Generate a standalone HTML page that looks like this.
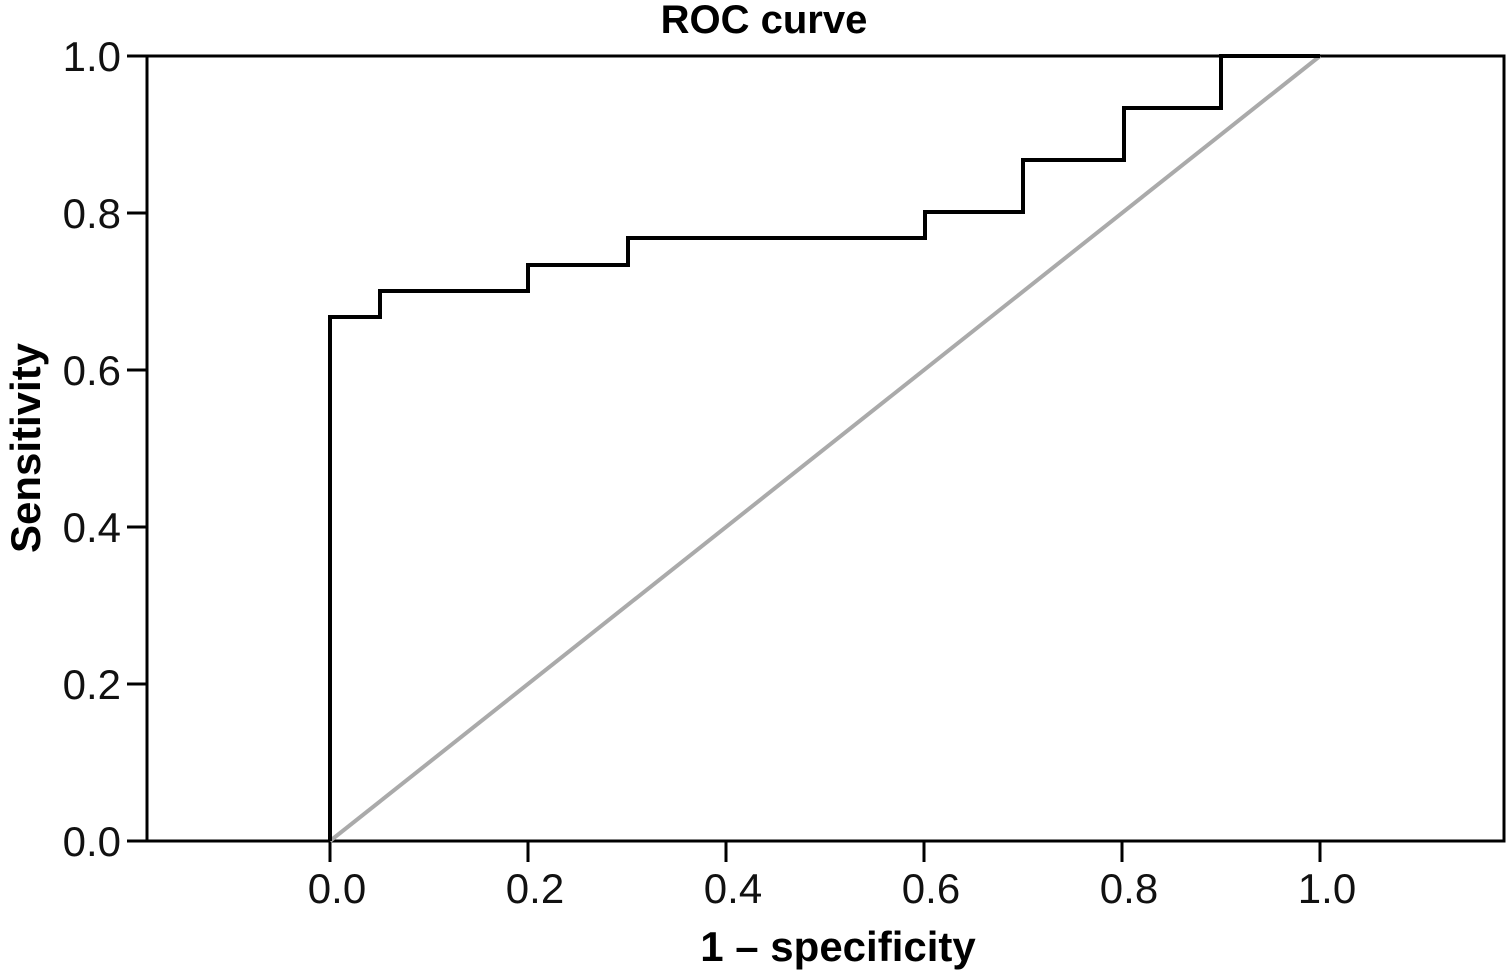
<!DOCTYPE html>
<html><head><style>body{margin:0;background:#fff}</style></head><body>
<svg width="1507" height="974" xmlns="http://www.w3.org/2000/svg" font-family="Liberation Sans, sans-serif">
<rect x="147" y="56" width="1357" height="785" fill="none" stroke="#000" stroke-width="3"/>
<g stroke="#000" stroke-width="3">
<line x1="127" y1="56" x2="147" y2="56"/><line x1="127" y1="213" x2="147" y2="213"/>
<line x1="127" y1="370" x2="147" y2="370"/><line x1="127" y1="527" x2="147" y2="527"/>
<line x1="127" y1="684" x2="147" y2="684"/><line x1="127" y1="841" x2="147" y2="841"/>
<line x1="330" y1="841" x2="330" y2="862"/><line x1="528" y1="841" x2="528" y2="862"/>
<line x1="726" y1="841" x2="726" y2="862"/><line x1="924" y1="841" x2="924" y2="862"/>
<line x1="1122" y1="841" x2="1122" y2="862"/><line x1="1320" y1="841" x2="1320" y2="862"/>
</g>
<line x1="330" y1="841" x2="1320" y2="56" stroke="#aaa" stroke-width="4"/>
<polyline fill="none" stroke="#000" stroke-width="4" points="330,841 330,317 380,317 380,291 528,291 528,265 628,265 628,238 925,238 925,212 1023,212 1023,160 1124,160 1124,108 1221,108 1221,56 1320,56"/>
<g font-size="42" fill="#111" text-anchor="end">
<text x="121" y="71">1.0</text><text x="121" y="228">0.8</text><text x="121" y="385">0.6</text>
<text x="121" y="542">0.4</text><text x="121" y="699">0.2</text><text x="121" y="856">0.0</text>
</g>
<g font-size="42" fill="#111" text-anchor="middle">
<text x="337" y="903">0.0</text><text x="535" y="903">0.2</text><text x="733" y="903">0.4</text>
<text x="931" y="903">0.6</text><text x="1129" y="903">0.8</text><text x="1327" y="903">1.0</text>
</g>
<text x="838" y="961" font-size="42" font-weight="bold" text-anchor="middle">1 – specificity</text>
<text x="764" y="33" font-size="40" font-weight="bold" text-anchor="middle">ROC curve</text>
<text transform="translate(40,448) rotate(-90)" font-size="42" font-weight="bold" text-anchor="middle">Sensitivity</text>
</svg>
</body></html>
